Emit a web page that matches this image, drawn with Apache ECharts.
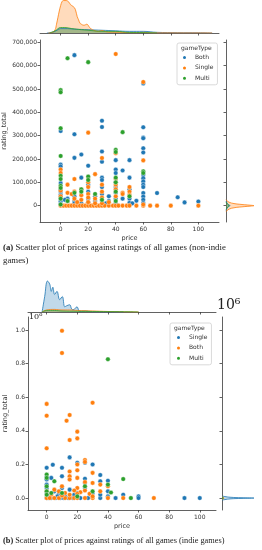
<!DOCTYPE html>
<html><head><meta charset="utf-8">
<script src="https://cdn.jsdelivr.net/npm/echarts@6/dist/echarts.min.js"></script>
<style>html,body{margin:0;padding:0;background:#fff}#c{width:262px;height:550px}</style>
</head><body><div id="c"></div>
<script>
// ---------- DATA ----------
const priceTicks = [0, 20, 40, 60, 80, 100];
const topRatingTicks = [0, 100000, 200000, 300000, 400000, 500000, 600000, 700000];
const botRatingTicks = [0, 200000, 400000, 600000, 800000, 1000000];
const topLegendNames = ['Both', 'Single', 'Multi'];
const botLegendNames = ['Single', 'Both', 'Multi'];

// (a) non-indie games: [price, rating_total]
const nonIndieBoth = [[0,320000],[0,176000],[0,168000],[0,97000],[0,70000],[0,47000],[0,33000],[0,19000],[0,8000],[0,60000],
 [10,645000],[10,306000],[10,205000],[10,40000],[10,20000],[10,10000],[5,30000],[5,20000],[3,25000],
 [15,219000],[15,120000],[15,10000],[15,0],[20,171000],[20,90000],[20,60000],[20,30000],[20,15000],[25,20000],[25,40000],
 [30,364000],[30,337000],[30,232000],[30,188000],[30,120000],[30,110000],[30,80000],[30,50000],[30,20000],
 [35,40000],[35,20000],[33,10000],[40,195000],[40,155000],[40,140000],[40,100000],[40,80000],[40,55000],[40,30000],[40,10000],
 [45,151000],[45,30000],[50,195000],[50,120000],[50,70000],[50,30000],[50,12000],[55,21000],[52,10000],
 [60,524000],[60,336000],[60,292000],[60,289000],[60,246000],[60,228000],[60,133000],[60,118000],[60,104000],[60,90000],
 [60,80000],[60,54000],[60,39000],[60,25000],[60,11000],[70,54000],[85,36000],[90,14000],[100,18000]];
const nonIndieSingle = [[40,650000],[60,530000],[20,313000],[30,204000],[40,225000],[60,194000],
 [0,155000],[0,140000],[0,80000],[0,65000],[0,40000],[0,0],[2,0],[4,0],[6,0],[8,0],[10,0],[12,0],[14,0],[16,0],[18,0],
 [20,0],[22,0],[24,0],[26,0],[28,0],[30,0],[32,0],[35,0],[38,0],[40,0],[42,0],[45,0],[48,0],[50,0],[55,0],[60,0],
 [65,0],[70,0],[80,0],[100,0],[5,90000],[5,55000],[8,50000],[10,114000],[10,60000],[10,30000],[15,70000],[15,45000],
 [15,25000],[12,15000],[20,120000],[20,100000],[20,80000],[20,50000],[20,35000],[20,15000],[25,135000],[25,30000],
 [25,10000],[30,90000],[30,60000],[30,35000],[35,15000],[40,115000],[40,90000],[40,70000],[40,40000],[45,55000],
 [45,50000],[50,80000],[50,60000],[50,45000],[60,5000],[30,10000]];
const nonIndieMulti = [[5,632000],[20,615000],[0,495000],[0,486000],[0,332000],[45,315000],[0,213000],[40,239000],
 [40,230000],[60,147000],[60,140000],[0,128000],[0,114000],[0,85000],[0,76000],[0,30000],[0,5000],[15,70000],
 [15,60000],[10,55000],[20,125000],[20,110000],[25,50000],[40,120000],[40,100000],[40,60000],[40,20000],[30,25000],
 [50,40000],[5,20000]];

// (b) indie games: [price, rating_total]
const indieSingle = [[15,242000],[0,180000],[4,198000],[10,180000],[20,210000],[25,210000],[30,200000],[35,137000],
 [10,130000],[0,125000],[0,110000],[3,120000],[25,115000],[25,90000],[35,100000],[40,103000],[40,40000],[50,20000],
 [60,10000],[60,0],[45,0],[90,0],[100,0],[0,0],[1,0],[3,0],[6,0],[9,0],[11,0],[14,0],[17,0],[22,0],[27,0],[30,5000],
 [35,0],[0,80000],[0,60000],[0,30000],[5,40000],[8,25000],[10,60000],[12,10000],[15,50000],[18,20000],[20,30000],
 [25,60000],[30,30000],[35,20000],[40,10000],[2,15000],[7,10000]];
const indieBoth = [[10,995000],[10,863000],[0,560000],[0,490000],[30,567000],[15,494000],[13,460000],[15,345000],
 [20,395000],[20,355000],[0,296000],[25,226000],[25,215000],[20,200000],[30,150000],[20,165000],[15,158000],
 [15,130000],[20,120000],[15,110000],[25,95000],[35,80000],[40,70000],[30,90000],[20,60000],[10,70000],[5,50000],
 [8,40000],[12,30000],[18,45000],[22,35000],[28,25000],[35,40000],[0,40000],[3,20000],[0,0],[2,0],[5,0],[8,0],
 [12,0],[15,0],[18,0],[20,0],[25,0],[30,0],[40,0],[50,0],[70,0],[25,45000],[20,25000],[30,10000],[10,15000],[15,20000]];
const indieMulti = [[40,826000],[0,140000],[0,120000],[5,100000],[50,113000],[40,80000],[42,33000],[55,0],[0,70000],
 [0,40000],[3,30000],[25,70000],[30,40000],[20,10000],[0,20000],[10,30000]];

// marginal densities (price, density) - top plot
const kdeTopSingle = [[-9,0],[-6,0.5],[-4,3],[-3,8],[-2,14],[-1,20],[0,25],[1,28.5],[2,29.5],[4,29.5],[6,28],[7,26],
 [8,25],[10,23],[11,20],[12,15],[13,12],[14,9],[15,8],[17,7],[19,8],[20,7],[21,5],[23,3],[25,2],[27,1.5],[29,2],
 [30,2.3],[32,1.5],[35,0.8],[40,0.8],[45,0.5],[50,0.3],[55,0.3],[60,0.6],[65,0.2],[70,0.1],[80,0.1],[90,0.05],[100,0.05],[110,0]];
const kdeTopBoth = [[-10,0],[-5,1],[-2,3],[0,4],[5,4],[10,3.5],[20,3],[30,2.5],[40,2],[50,1.5],[60,1.5],[70,0.6],[85,0.3],[100,0.2],[110,0]];
const kdeTopMulti = [[-8,0],[-4,2],[0,5],[3,5],[8,4],[15,3],[20,2.5],[30,1.5],[40,1.5],[50,0.5],[60,0.4],[70,0]];
// right marginal (density, rating) - top plot
const kdeRightTopSingle = [[0,-25000],[3,-15000],[8,-9000],[16,-5000],[24,-2000],[28,0],[24,2000],[16,5000],[8,9000],[3,15000],[0,25000]];
const kdeRightTopBoth = [[0,-20000],[2,-6000],[4,0],[2,6000],[0,20000]];
const kdeRightTopMulti = [[0,-15000],[2,-4000],[3,0],[2,4000],[0,15000]];
// bottom plot marginals
const kdeBotSingle = [[-3,0],[-1.3,15],[0.5,30],[2,27],[3,20],[4,24],[5.2,17],[6.7,20],[8.5,12],[10.2,15],[11.8,5],
 [13,6],[15,7],[16.3,3],[17.2,2],[19.8,5],[21.5,0.6],[24.8,1],[30,0.3],[35,0.2],[41,0.1],[50,0]];
const kdeBotBoth = [[-3,0],[0,2],[5,2.5],[10,2],[15,2],[20,1.5],[30,1],[40,0.5],[50,0.2],[60,0]];
const kdeBotMulti = [[-3,0],[0,1.5],[5,1.5],[10,1],[20,0.7],[40,0.4],[55,0.2],[60,0]];
const kdeRightBotSingle = [[0,-12000],[8,-5000],[20,-2000],[32,0],[20,2000],[8,5000],[0,12000]];
const kdeRightBotBoth = [[0,-8000],[2,0],[0,8000]];
const kdeRightBotMulti = [[0,-6000],[1.5,0],[0,6000]];

// ---------- STYLE ----------
const C = {blue:'#1f77b4', orange:'#ff7f0e', green:'#2ca02c'};
const AX = '#3a3a3a';
const FONT = 'DejaVu Sans';
const lbl = {fontFamily: FONT, fontSize: 6, color: '#333'};

function mainX(gi, min, max, name, gap) {
  return {gridIndex: gi, type:'value', min, max, splitLine:{show:false},
    axisLine:{show:true, onZero:false, lineStyle:{color:AX, width:0.8}},
    axisTick:{show:true, length:2.5, customValues: priceTicks, lineStyle:{color:AX, width:0.8}},
    axisLabel:{show:true, customValues: priceTicks, margin:4, ...lbl},
    name, nameLocation:'middle', nameGap: gap, nameMoveOverlap:false,
    nameTextStyle:{fontFamily:FONT, fontSize:6.5, color:'#333'}};
}
function mainY(gi, min, max, ticks, fmt, gap) {
  return {gridIndex: gi, type:'value', min, max, splitLine:{show:false},
    axisLine:{show:true, onZero:false, lineStyle:{color:AX, width:0.8}},
    axisTick:{show:true, length:2.5, customValues: ticks, lineStyle:{color:AX, width:0.8}},
    axisLabel:{show:true, customValues: ticks, margin:3, formatter: fmt, ...lbl},
    name:'rating_total', nameLocation:'middle', nameRotate:90, nameGap: gap, nameMoveOverlap:false,
    nameTextStyle:{fontFamily:FONT, fontSize:6.5, color:'#333'}};
}
function margX(gi, min, max) {
  return {gridIndex: gi, type:'value', min, max, splitLine:{show:false},
    axisLine:{show:true, onZero:false, lineStyle:{color:AX, width:0.8}},
    axisTick:{show:true, length:2.5, customValues: priceTicks, lineStyle:{color:AX, width:0.8}},
    axisLabel:{show:false}};
}
function margY(gi, min, max, ticks) {
  return {gridIndex: gi, type:'value', min, max, splitLine:{show:false},
    axisLine:{show:true, onZero:false, lineStyle:{color:AX, width:0.8}},
    axisTick:{show:true, length:2.5, customValues: ticks, lineStyle:{color:AX, width:0.8}},
    axisLabel:{show:false}};
}
function hidden(gi, min, max) {
  return {gridIndex: gi, type:'value', min, max, show:false, splitLine:{show:false}};
}
function scatter(name, data, color, xi) {
  return {type:'scatter', name, data, xAxisIndex: xi, yAxisIndex: xi, symbolSize: 4.6,
    itemStyle:{color, borderColor:'#fff', borderWidth:0.4, opacity:1}, z: 3};
}
function kde(name, data, color, xi) {
  return {type:'line', name, data, xAxisIndex: xi, yAxisIndex: xi, smooth:0.4, showSymbol:false, symbol:'none',
    lineStyle:{color, width:0.8}, areaStyle:{color, opacity:0.28}, silent:true, z:2};
}

const topX = [-15, 115], topY = [-70000, 710000];
const botX = [-12.2, 110.6], botY = [-71000, 1077000];

const option = {
  animation: false,
  backgroundColor: '#fff',
  grid: [
    {left:40, top:40, width:179, height:182, outerBoundsMode:'none'},   // 0 main (a)
    {left:40, top:0, width:179, height:33, outerBoundsMode:'none'},     // 1 top marg (a)
    {left:226, top:40, width:36, height:182, outerBoundsMode:'none'},   // 2 right marg (a)
    {left:28, top:317, width:188, height:193, outerBoundsMode:'none'},  // 3 main (b)
    {left:28, top:280, width:188, height:32, outerBoundsMode:'none'},   // 4 top marg (b)
    {left:222, top:317, width:36, height:193, outerBoundsMode:'none'}   // 5 right marg (b)
  ],
  xAxis: [
    mainX(0, topX[0], topX[1], 'price', 13),
    margX(1, topX[0], topX[1]),
    hidden(2, 0, 36),
    mainX(3, botX[0], botX[1], 'price', 13),
    margX(4, botX[0], botX[1]),
    hidden(5, 0, 36)
  ],
  yAxis: [
    mainY(0, topY[0], topY[1], topRatingTicks, v => v.toLocaleString('en-US'), 32),
    hidden(1, 0, 30),
    margY(2, topY[0], topY[1], topRatingTicks),
    mainY(3, botY[0], botY[1], botRatingTicks, v => (v/1e6).toFixed(1), 19),
    hidden(4, 0, 31),
    margY(5, botY[0], botY[1], botRatingTicks)
  ],
  legend: [
    {data: topLegendNames, orient:'vertical', left:177, top:43, padding:[11,4,3,4], itemWidth:11, itemHeight:5,
     itemGap:3.4, icon:'circle', backgroundColor:'#fff', borderColor:'#d0d0d0', borderWidth:0.8, borderRadius:2,
     textStyle:{fontFamily:FONT, fontSize:6, color:'#333', padding:[0,0,0,0]}, formatter: n => n.trim(), selectedMode:false},
    {data: botLegendNames.map(n => n + ' '), orient:'vertical', left:170, top:323, padding:[11,4,3,5], itemWidth:11, itemHeight:5,
     itemGap:3.4, icon:'circle', backgroundColor:'#fff', borderColor:'#d0d0d0', borderWidth:0.8, borderRadius:2,
     textStyle:{fontFamily:FONT, fontSize:6, color:'#333'}, formatter: n => n.trim(), selectedMode:false}
  ],
  graphic: [
    {type:'text', left:181, top:45, z:100, style:{text:'gameType', font:'6px "DejaVu Sans"', fill:'#333'}},
    {type:'text', left:174, top:325, z:100, style:{text:'gameType', font:'6px "DejaVu Sans"', fill:'#333'}},
    {type:'text', left:29, top:313, z:100, style:{text:'10⁶', font:'8px "DejaVu Serif"', fill:'#222'}},
    {type:'text', left:217, top:298, z:100, style:{text:'10⁶', font:'14px "DejaVu Serif"', fill:'#222'}},
    {type:'text', left:3, top:243, z:100, style:{
      text:'{b|(a)} Scatter plot of prices against ratings of all games (non-indie',
      font:'8.8px "Liberation Serif"', fill:'#222',
      rich:{b:{fontWeight:'bold', fontFamily:'Liberation Serif', fontSize:8.8, fill:'#222'}}}},
    {type:'text', left:3, top:256, z:100, style:{text:'games)', font:'8.8px "Liberation Serif"', fill:'#222'}},
    {type:'text', left:3, top:537, z:100, style:{
      text:'{b|(b)} Scatter plot of prices against ratings of all games (indie games)',
      font:'8.3px "Liberation Serif"', fill:'#222',
      rich:{b:{fontWeight:'bold', fontFamily:'Liberation Serif', fontSize:8.3, fill:'#222'}}}}
  ],
  series: [
    scatter('Both', nonIndieBoth, C.blue, 0),
    scatter('Single', nonIndieSingle, C.orange, 0),
    scatter('Multi', nonIndieMulti, C.green, 0),
    kde('kA-Both', kdeTopBoth, C.blue, 1),
    kde('kA-Single', kdeTopSingle, C.orange, 1),
    kde('kA-Multi', kdeTopMulti, C.green, 1),
    kde('rA-Single', kdeRightTopSingle, C.orange, 2),
    kde('rA-Both', kdeRightTopBoth, C.blue, 2),
    kde('rA-Multi', kdeRightTopMulti, C.green, 2),
    scatter('Single ', indieSingle, C.blue, 3),
    scatter('Both ', indieBoth, C.orange, 3),
    scatter('Multi ', indieMulti, C.green, 3),
    kde('kB-Single', kdeBotSingle, C.blue, 4),
    kde('kB-Both', kdeBotBoth, C.orange, 4),
    kde('kB-Multi', kdeBotMulti, C.green, 4),
    kde('rB-Single', kdeRightBotSingle, C.blue, 5),
    kde('rB-Both', kdeRightBotBoth, C.orange, 5),
    kde('rB-Multi', kdeRightBotMulti, C.green, 5)
  ]
};
const chart = echarts.init(document.getElementById('c'), null, {renderer:'canvas'});
chart.setOption(option);
</script></body></html>
